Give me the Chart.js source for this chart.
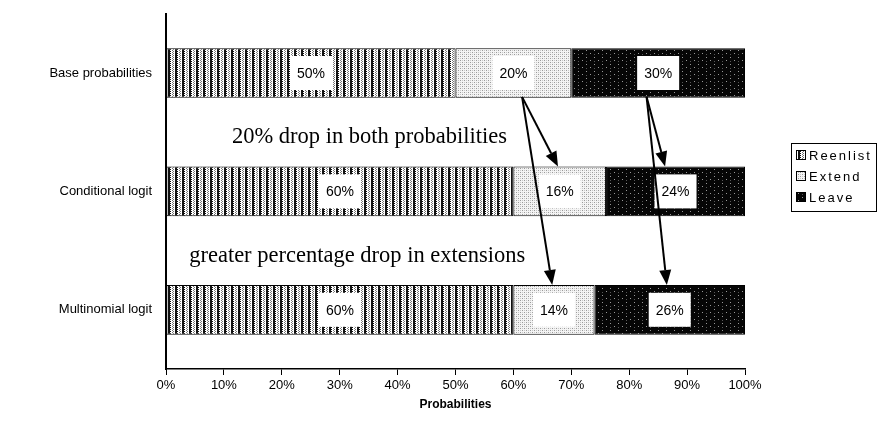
<!DOCTYPE html>
<html lang="en">
<head>
    <meta charset="UTF-8">
    <title>Reenlist / Extend / Leave probabilities</title>
    <style>
        html, body {
            margin: 0;
            padding: 0;
            background: #fff;
        }
        #wrap {
            width: 888px;
            height: 436px;
        }
    </style>
</head>
<body>
    <div id="wrap">
        <canvas id="chart" width="888" height="436"></canvas>
    </div>

    <script src="https://cdn.jsdelivr.net/npm/chart.js"></script>
    <script>
        // data (percent)
        const categories = ['Base probabilities', 'Conditional logit', 'Multinomial logit'];
        const seriesNames = ['Reenlist', 'Extend', 'Leave'];
        const reenlist = [50, 60, 60];
        const extend = [20, 16, 14];
        const leave = [30, 24, 26];
        const xTicks = [0, 10, 20, 30, 40, 50, 60, 70, 80, 90, 100];

        // annotation texts: [text, x value (%), y position in category units]
        const notes = [
            ['20% drop in both probabilities', 11.4, 0.54],
            ['greater percentage drop in extensions', 4, 1.55]
        ];
        // arrows: start [category, %] -> end [category, %]
        const arrowFrom = [[0, 61.5], [0, 61.5], [0, 83], [0, 83]];
        const arrowTo = [[1, 67.7], [2, 66.7], [1, 86.2], [2, 86.5]];

        // pattern tiles to mimic the printed fills
        function makePattern(kind) {
            const c = document.createElement('canvas');
            const g = c.getContext('2d');
            if (kind === 'reenlist') {
                c.width = 7; c.height = 4;
                g.fillStyle = '#fff'; g.fillRect(0, 0, 7, 4);
                g.fillStyle = '#111';
                g.fillRect(0, 0, 2, 4);
                g.fillRect(2, 1, 1, 1);
                g.fillRect(2, 3, 1, 1);
                g.fillStyle = '#777';
                g.fillRect(4, 0, 1, 1);
                g.fillRect(4, 2, 1, 1);
                g.fillRect(5, 1, 1, 1);
                g.fillRect(5, 3, 1, 1);
            } else if (kind === 'extend') {
                c.width = 4; c.height = 4;
                g.fillStyle = '#f4f4f4'; g.fillRect(0, 0, 4, 4);
                g.fillStyle = '#9a9a9a';
                g.fillRect(0, 0, 1, 1);
                g.fillRect(2, 2, 1, 1);
                g.fillStyle = '#c8c8c8';
                g.fillRect(2, 0, 1, 1);
                g.fillRect(0, 2, 1, 1);
            } else {
                c.width = 8; c.height = 7;
                g.fillStyle = '#060606'; g.fillRect(0, 0, 8, 7);
                g.fillStyle = '#999';
                g.fillRect(2, 1, 1, 1);
                g.fillRect(6, 4, 1, 1);
                g.fillStyle = '#555';
                g.fillRect(2, 5, 1, 1);
            }
            return g.createPattern(c, 'repeat');
        }

        const fills = [makePattern('reenlist'), makePattern('extend'), makePattern('leave')];

        // white boxed % labels in the middle of each segment
        const segmentLabels = {
            id: 'segmentLabels',
            afterDatasetsDraw(chart) {
                const ctx = chart.ctx;
                ctx.save();
                ctx.font = '14px Arial, "Liberation Sans", sans-serif';
                ctx.textAlign = 'center';
                ctx.textBaseline = 'middle';
                chart.data.datasets.forEach((ds, i) => {
                    chart.getDatasetMeta(i).data.forEach((el, j) => {
                        const cx = (el.x + el.base) / 2;
                        const txt = ds.data[j] + '%';
                        const w = ctx.measureText(txt).width + 14;
                        const h = 34;
                        ctx.fillStyle = '#fff';
                        ctx.fillRect(cx - w / 2, el.y - h / 2, w, h);
                        ctx.fillStyle = '#000';
                        ctx.fillText(txt, cx, el.y + 1);
                    });
                });
                ctx.restore();
            }
        };

        // notes, arrows and boxed legend
        const extras = {
            id: 'extras',
            afterDraw(chart) {
                const ctx = chart.ctx;
                const xs = chart.scales.x;
                const ys = chart.scales.y;
                const half = chart.getDatasetMeta(0).data[0].height / 2;
                ctx.save();

                ctx.fillStyle = '#000';
                ctx.font = '22.5px "Liberation Serif", "Times New Roman", serif';
                ctx.textAlign = 'left';
                ctx.textBaseline = 'middle';
                notes.forEach(n => {
                    ctx.fillText(n[0], xs.getPixelForValue(n[1]), ys.getPixelForValue(n[2]));
                });

                ctx.strokeStyle = '#000';
                ctx.lineWidth = 2;
                arrowFrom.forEach((f, i) => {
                    const t = arrowTo[i];
                    const x1 = xs.getPixelForValue(f[1]);
                    const y1 = ys.getPixelForValue(f[0]) + half - 1;
                    const x2 = xs.getPixelForValue(t[1]);
                    const y2 = ys.getPixelForValue(t[0]) - half;
                    const a = Math.atan2(y2 - y1, x2 - x1);
                    const len = 15, wid = 6;
                    const bx = x2 - len * Math.cos(a);
                    const by = y2 - len * Math.sin(a);
                    ctx.beginPath();
                    ctx.moveTo(x1, y1);
                    ctx.lineTo(bx, by);
                    ctx.stroke();
                    ctx.beginPath();
                    ctx.moveTo(x2, y2);
                    ctx.lineTo(bx + wid * Math.sin(a), by - wid * Math.cos(a));
                    ctx.lineTo(bx - wid * Math.sin(a), by + wid * Math.cos(a));
                    ctx.closePath();
                    ctx.fill();
                });

                // legend box
                const lx = 791, ly = 143, lw = 85, lh = 68;
                ctx.lineWidth = 1;
                ctx.strokeRect(lx + 0.5, ly + 0.5, lw, lh);
                ctx.font = '13px Arial, "Liberation Sans", sans-serif';
                ctx.letterSpacing = '2px';
                chart.data.datasets.forEach((ds, i) => {
                    const ry = ly + 12 + i * 21;
                    ctx.fillStyle = ds.backgroundColor;
                    ctx.fillRect(lx + 5, ry - 5, 10, 10);
                    ctx.strokeRect(lx + 5.5, ry - 4.5, 9, 9);
                    ctx.fillStyle = '#000';
                    ctx.fillText(ds.label, lx + 18, ry + 1);
                });
                ctx.restore();
            }
        };

        const datasets = [reenlist, extend, leave].map((vals, i) => ({
            label: seriesNames[i],
            data: vals,
            backgroundColor: fills[i],
            borderColor: '#000',
            borderWidth: 1,
            borderSkipped: false,
            barPercentage: 0.84,
            categoryPercentage: 0.5
        }));

        new Chart(document.getElementById('chart'), {
            type: 'bar',
            data: { labels: categories, datasets: datasets },
            plugins: [segmentLabels, extras],
            options: {
                responsive: false,
                animation: false,
                indexAxis: 'y',
                layout: { padding: { top: 3, right: 143, left: 0, bottom: 0 } },
                plugins: {
                    legend: { display: false },
                    tooltip: { enabled: false }
                },
                scales: {
                    x: {
                        stacked: true,
                        min: 0,
                        max: 100,
                        afterFit: s => { s.height = 67; },
                        afterBuildTicks: s => { s.ticks = xTicks.map(v => ({ value: v })); },
                        ticks: {
                            color: '#000',
                            font: { family: 'Arial, "Liberation Sans", sans-serif', size: 13 },
                            padding: 3,
                            maxRotation: 0,
                            callback: v => v + '%'
                        },
                        grid: {
                            drawOnChartArea: false,
                            drawTicks: true,
                            tickLength: 6,
                            color: '#000'
                        },
                        border: { display: true, color: '#000', width: 1.5 },
                        title: {
                            display: true,
                            text: 'Probabilities',
                            color: '#000',
                            font: { family: 'Arial, "Liberation Sans", sans-serif', size: 12, weight: 'bold' },
                            padding: { top: 0, bottom: 24 }
                        }
                    },
                    y: {
                        stacked: true,
                        afterFit: s => { s.width = 166; },
                        ticks: {
                            color: '#000',
                            font: { family: 'Arial, "Liberation Sans", sans-serif', size: 13 },
                            padding: 6
                        },
                        grid: { display: false },
                        border: { display: true, color: '#000', width: 2 }
                    }
                }
            }
        });
    </script>
</body>
</html>
